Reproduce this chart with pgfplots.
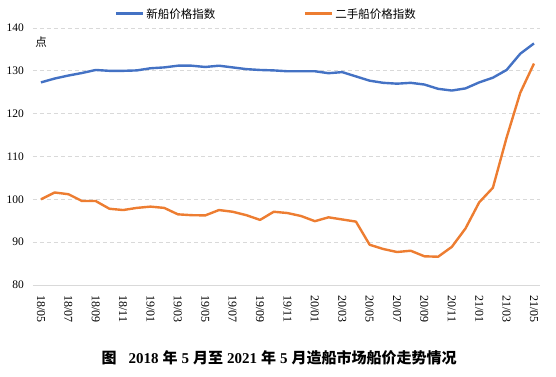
\documentclass[border=0pt]{standalone}
\usepackage{pgfplots}
\pgfplotsset{compat=1.18}
\usepackage{fontspec}
\setmainfont{Liberation Serif}
\newfontfamily\cjk{Noto Sans CJK SC}
\definecolor{cblue}{HTML}{4472C4}
\definecolor{corange}{HTML}{ED7D31}
\definecolor{gridgray}{HTML}{D9D9D9}
\begin{document}
\begin{tikzpicture}
\begin{axis}[
  at={(0,0)}, anchor=south west,
  scale only axis, width=507bp, height=257bp,
  xmin=-0.58, xmax=36.44, ymin=80, ymax=140,
  ytick={80,90,100,110,120,130,140},
  xtick={0,2,...,36},
  xticklabels={18/05,18/07,18/09,18/11,19/01,19/03,19/05,19/07,19/09,19/11,20/01,20/03,20/05,20/07,20/09,20/11,21/01,21/03,21/05},
  axis x line*=bottom, axis y line*=left,
  y axis line style={draw=none},
  x axis line style={-, draw=gridgray, line width=0.75bp},
  major tick length=0pt,
  tick style={draw=none},
  ymajorgrids,
  grid style={draw=gridgray, line width=0.75bp, dash pattern=on 4bp off 3bp},
  /pgf/number format/assume math mode=true,
  yticklabel style={font=\fontsize{11.5bp}{13bp}\selectfont, text=black, inner sep=0pt, xshift=-9bp},
  xticklabel style={font=\fontsize{12bp}{14bp}\selectfont, text=black, inner sep=0pt, rotate=-90, anchor=west},
  xticklabel shift=10bp,
  legend style={draw=none, fill=none, at={(0.46,1.0545)}, anchor=center,
    font=\fontsize{11.5bp}{13bp}\selectfont\cjk,
    /tikz/every even column/.append style={column sep=86bp}},
  legend columns=2,
  legend image code/.code={\draw[#1, line width=3bp] (0bp,0bp) -- (27bp,0bp);},
]
\addplot[cblue, line width=2.4bp, line join=round] coordinates {
(0,127.3) (1,128.2) (2,128.9) (3,129.5) (4,130.2) (5,130.0) (6,130.0) (7,130.1)
(8,130.6) (9,130.8) (10,131.2) (11,131.2) (12,130.9) (13,131.2) (14,130.8) (15,130.4)
(16,130.2) (17,130.1) (18,129.9) (19,129.9) (20,129.9) (21,129.45) (22,129.7) (23,128.7)
(24,127.7) (25,127.2) (26,127.0) (27,127.2) (28,126.8) (29,125.8) (30,125.4) (31,125.9)
(32,127.3) (33,128.4) (34,130.2) (35,134.0) (36,136.4)};
\addlegendentry{新船价格指数}
\addplot[corange, line width=2.4bp, line join=round] coordinates {
(0,100.0) (1,101.6) (2,101.2) (3,99.6) (4,99.6) (5,97.8) (6,97.5) (7,98.0)
(8,98.3) (9,98.0) (10,96.5) (11,96.3) (12,96.25) (13,97.5) (14,97.1) (15,96.3)
(16,95.2) (17,97.1) (18,96.8) (19,96.1) (20,94.9) (21,95.8) (22,95.3) (23,94.8)
(24,89.4) (25,88.4) (26,87.7) (27,88.0) (28,86.7) (29,86.6) (30,88.9) (31,93.2)
(32,99.3) (33,102.7) (34,114.4) (35,124.9) (36,131.7)};
\addlegendentry{二手船价格指数}
\node[font=\fontsize{11.5bp}{13bp}\selectfont\cjk] at (axis description cs:0.0158,0.9455) {点};
\end{axis}
\node[font=\fontsize{15bp}{18bp}\selectfont\bfseries] at (246bp,-73bp)
  {{\cjk 图}\hspace{12bp}2018\hspace{4bp}{\cjk 年}\hspace{4bp}5\hspace{4bp}{\cjk 月至}\hspace{4bp}2021\hspace{4bp}{\cjk 年}\hspace{4bp}5\hspace{4bp}{\cjk 月造船市场船价走势情况}};
\pgfresetboundingbox
\path (-33bp,-92bp) rectangle (523bp,285bp);
\end{tikzpicture}
\end{document}
